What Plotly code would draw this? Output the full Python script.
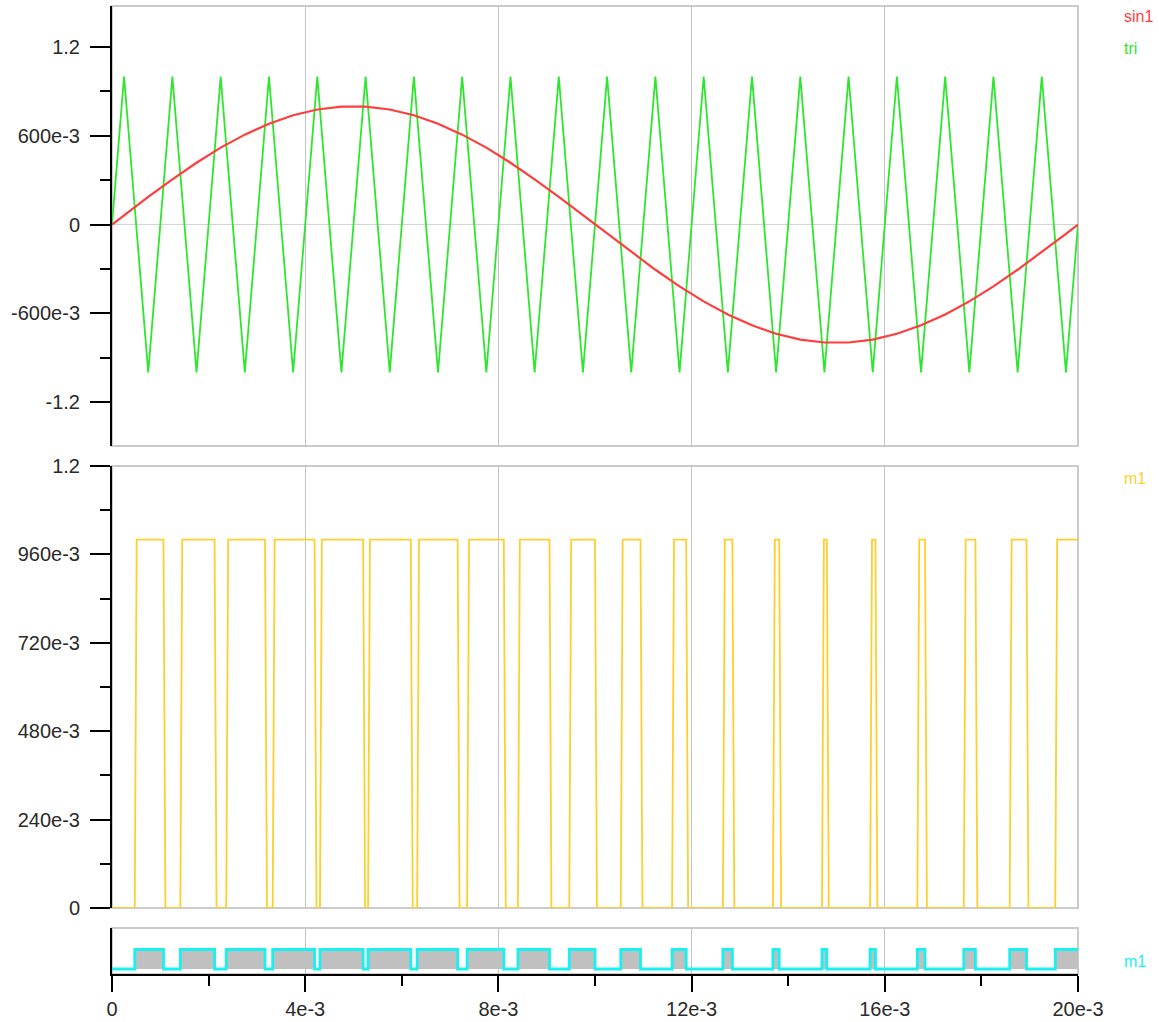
import plotly.graph_objects as go

# ---------------- data (times in milliseconds) ----------------
t_ms = [0, 0.25, 0.75, 1.25, 1.75, 2.25, 2.75, 3.25, 3.75, 4.25, 4.75,
        5.25, 5.75, 6.25, 6.75, 7.25, 7.75, 8.25, 8.75, 9.25, 9.75,
        10.25, 10.75, 11.25, 11.75, 12.25, 12.75, 13.25, 13.75, 14.25, 14.75,
        15.25, 15.75, 16.25, 16.75, 17.25, 17.75, 18.25, 18.75, 19.25, 19.75, 20]

sin1 = [0, 0.063, 0.187, 0.306, 0.418, 0.520, 0.608, 0.682, 0.739, 0.778, 0.798,
        0.798, 0.778, 0.739, 0.682, 0.608, 0.520, 0.418, 0.306, 0.187, 0.063,
        -0.063, -0.187, -0.306, -0.418, -0.520, -0.608, -0.682, -0.739, -0.778, -0.798,
        -0.798, -0.778, -0.739, -0.682, -0.608, -0.520, -0.418, -0.306, -0.187, -0.063, 0]

tri = [0, 1, -1, 1, -1, 1, -1, 1, -1, 1, -1,
       1, -1, 1, -1, 1, -1, 1, -1, 1, -1,
       1, -1, 1, -1, 1, -1, 1, -1, 1, -1,
       1, -1, 1, -1, 1, -1, 1, -1, 1, -1, 0]

m1_rise_ms = [0.471, 1.414, 2.365, 3.327, 4.305, 5.301, 6.317, 7.352, 8.404, 9.467,
              10.533, 11.596, 12.648, 13.683, 14.699, 15.695, 16.673, 17.635, 18.586, 19.529]
m1_fall_ms = [1.066, 2.124, 3.168, 4.194, 5.200, 6.186, 7.156, 8.112, 9.058, 10.000,
              10.942, 11.888, 12.844, 13.814, 14.800, 15.806, 16.832, 17.876, 18.934]
m1_edge_ms = 0.04      # sampled edge duration seen on the analog m1 trace
t_end_ms = 20

x_tickvals = [0, 4e-3, 8e-3, 12e-3, 16e-3, 20e-3]
x_ticktext = ["0", "4e-3", "8e-3", "12e-3", "16e-3", "20e-3"]
x_minor = [2e-3, 6e-3, 10e-3, 14e-3, 18e-3]

top_tickvals = [-1.2, -0.6, 0, 0.6, 1.2]
top_ticktext = ["-1.2", "-600e-3", "0", "600e-3", "1.2"]
top_minor = [-0.9, -0.3, 0.3, 0.9]

mid_tickvals = [0, 0.24, 0.48, 0.72, 0.96, 1.2]
mid_ticktext = ["0", "240e-3", "480e-3", "720e-3", "960e-3", "1.2"]
mid_minor = [0.12, 0.36, 0.6, 0.84, 1.08]

# ---------------- build traces ----------------
t_s = [v * 1e-3 for v in t_ms]

# analog m1 (slanted edges)
m1_x, m1_y = [0.0], [0]
for i, r in enumerate(m1_rise_ms):
    m1_x += [r, r + m1_edge_ms]
    m1_y += [0, 1]
    if i < len(m1_fall_ms):
        f = m1_fall_ms[i]
        m1_x += [f, f + m1_edge_ms]
        m1_y += [1, 0]
m1_x.append(t_end_ms)
m1_y.append(1)
m1_x = [v * 1e-3 for v in m1_x]

# digital m1 (step)
d_x, d_y = [0.0], [0]
for i, r in enumerate(m1_rise_ms):
    d_x.append(r); d_y.append(1)
    if i < len(m1_fall_ms):
        d_x.append(m1_fall_ms[i]); d_y.append(0)
d_x.append(t_end_ms); d_y.append(1)
d_x = [v * 1e-3 for v in d_x]

RED = "#ff3d3d"
GREEN = "#2ee62e"
GOLD = "#ffcf2e"
CYAN = "#19f0f0"
GRID = "#c4c4c4"
FRAME = "#cbcbcb"

fig = go.Figure()
fig.add_trace(go.Scatter(x=t_s, y=tri, mode="lines", name="tri",
                         line=dict(color=GREEN, width=1.8), xaxis="x3", yaxis="y3"))
fig.add_trace(go.Scatter(x=t_s, y=sin1, mode="lines", name="sin1",
                         line=dict(color=RED, width=2.2), xaxis="x3", yaxis="y3"))
fig.add_trace(go.Scatter(x=m1_x, y=m1_y, mode="lines", name="m1",
                         line=dict(color=GOLD, width=1.8), xaxis="x2", yaxis="y2"))
fig.add_trace(go.Scatter(x=d_x, y=d_y, mode="lines", name="m1",
                         line=dict(color=CYAN, width=2.8, shape="hv"),
                         fill="tozeroy", fillcolor="#c0c0c0", xaxis="x", yaxis="y"))

H = 968.0
def dom(top_px, bot_px):
    return [(974 - bot_px) / H, (974 - top_px) / H]

d_top = dom(6, 446)
d_mid = dom(466, 908)
d_bot = dom(928, 974)

FONT = dict(family="Liberation Sans, Arial, sans-serif", size=20, color="#2a2a2a")

common_x = dict(range=[0, 0.02], tickmode="array", tickvals=x_tickvals, automargin=False,
                showgrid=True, gridcolor=GRID, gridwidth=1, zeroline=False)

fig.update_layout(
    width=1159, height=1022,
    margin=dict(l=112, r=81, t=6, b=48, autoexpand=False),
    paper_bgcolor="white", plot_bgcolor="white",
    showlegend=False, font=FONT,
    xaxis=dict(**common_x, anchor="y", domain=[0, 1], ticktext=x_ticktext,
               showline=True, linecolor="black", linewidth=2,
               ticks="outside", ticklen=16, tickwidth=1.5, tickcolor="black",
               minor=dict(tickmode="array", tickvals=x_minor, ticks="outside",
                          ticklen=10, tickwidth=1.5, tickcolor="black", showgrid=False)),
    xaxis2=dict(**common_x, anchor="y2", matches="x", showticklabels=False, ticks=""),
    xaxis3=dict(**common_x, anchor="y3", matches="x", showticklabels=False, ticks=""),
    yaxis=dict(domain=d_bot, range=[-0.256, 2.1], anchor="x", showticklabels=False,
               ticks="", showgrid=False, zeroline=False, automargin=False,
               showline=True, linecolor="black", linewidth=2),
    yaxis2=dict(domain=d_mid, range=[0, 1.2], anchor="x2", tickmode="array", automargin=False,
                tickvals=mid_tickvals, ticktext=mid_ticktext, showgrid=False, zeroline=False,
                showline=True, linecolor="black", linewidth=2,
                ticks="outside", ticklen=20, tickwidth=1.5, tickcolor="black",
                ticklabelstandoff=6,
                minor=dict(tickmode="array", tickvals=mid_minor, ticks="outside",
                           ticklen=10, tickwidth=1.5, tickcolor="black", showgrid=False)),
    yaxis3=dict(domain=d_top, range=[-1.498, 1.478], anchor="x3", tickmode="array", automargin=False,
                tickvals=top_tickvals, ticktext=top_ticktext, showgrid=False,
                zeroline=True, zerolinecolor="#d4d4d4", zerolinewidth=1,
                showline=True, linecolor="black", linewidth=2,
                ticks="outside", ticklen=20, tickwidth=1.5, tickcolor="black",
                ticklabelstandoff=6,
                minor=dict(tickmode="array", tickvals=top_minor, ticks="outside",
                           ticklen=10, tickwidth=1.5, tickcolor="black", showgrid=False)),
)

for d in (d_top, d_mid, d_bot):
    fig.add_shape(type="rect", xref="paper", yref="paper", x0=0, x1=1, y0=d[0], y1=d[1],
                  line=dict(color=FRAME, width=2), layer="below")

def lab(text, y_px, color):
    fig.add_annotation(text=text, xref="paper", yref="paper",
                       x=(1122 - 112) / 966.0, y=(974 - y_px) / H,
                       xanchor="left", yanchor="middle", showarrow=False,
                       font=dict(family="Liberation Sans, Arial, sans-serif", size=16, color=color))

lab("sin1", 17, RED)
lab("tri", 48, GREEN)
lab("m1", 478, GOLD)
lab("m1", 961, CYAN)

fig.write_html("out.html", config={"displayModeBar": False},
               post_script="document.body.style.margin='0px';document.body.style.overflow='hidden';")
